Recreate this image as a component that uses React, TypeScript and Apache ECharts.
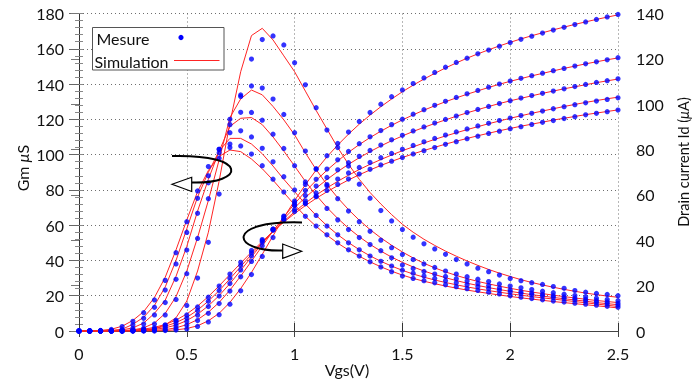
import React, { useEffect, useRef } from "react";
import * as echarts from "echarts";

// Gate voltage samples (V)
const VGS = [
  0, 0.05, 0.1, 0.15, 0.2, 0.25, 0.3, 0.35, 0.4, 0.45, 0.5, 0.55, 0.6, 0.65, 0.7, 0.75, 0.8, 0.85, 0.9, 0.95, 1.0,
  1.05, 1.1, 1.15, 1.2, 1.25, 1.3, 1.35, 1.4, 1.45, 1.5, 1.55, 1.6, 1.65, 1.7, 1.75, 1.8, 1.85, 1.9, 1.95, 2.0,
  2.05, 2.1, 2.15, 2.2, 2.25, 2.3, 2.35, 2.4, 2.45, 2.5,
];

// Measured transconductance Gm (µS), left axis
const gmMeasA = [0,0,0,0,0,0.1,0.3,0.9,3.4,6.1,14.5,30,50.3,77.6,104,133.8,154.2,165.2,167.3,162.2,152.1,139.6,126.6,113.9,104,93.5,83.2,75.3,68.3,62.4,57.5,53.2,49.4,46.5,43.5,40.5,38,35.6,33.6,31.7,29.8,28.5,27.4,26.4,25.2,24.2,22.9,22,21.3,20.7,20.0];
const gmMeasB = [0,0,0,0,0.2,0.5,1.5,4,9.1,17.9,32.5,52.5,75,98,120,133,138.9,137.7,131.5,122.8,112.4,102,92,83,75,68,62,56.5,51.5,47.2,43.4,40.5,38,36,34,32.3,30.8,29.4,28,26.7,25.5,24.5,23.5,22.6,21.7,20.9,20.1,19.3,18.6,17.9,17.2];
const gmMeasC = [0,0,0,0.2,0.5,1.5,4,9.1,16.1,29.3,45.9,66.7,84,101,117,124,123.9,119.5,111.6,103.5,93.7,84.5,76.5,69.5,63,57.5,53,49,45.5,41.5,37.4,35.5,33.8,32.3,30.9,29.6,28.3,27,25.8,24.4,23.2,22.3,21.5,20.8,20,19.3,18.6,17.9,17.2,16.5,15.7];
const gmMeasD = [0,0,0,0.3,0.9,3.5,7.2,13.4,23.2,38,55.9,75.2,88,103,112.4,113.5,110,103.6,95.9,87.5,80,72.5,65.5,59.5,54.5,50,46,42.5,39.5,36.8,34.5,32.8,31.2,29.8,28.5,27.3,26.2,25.1,24.1,23.1,22.1,21.3,20.5,19.8,19,18.3,17.6,16.9,16.2,15.4,14.6];
const gmMeasE = [0,0,0.3,0.9,2.5,5.5,10.4,17.6,28.7,44.4,62,79.4,93.2,103,106,104.9,100.3,93.7,86.1,78.8,71.5,65,59.5,54.5,50,46,42.5,39.2,36.3,33.6,31.2,29.8,28.5,27.3,26.2,25.1,24,23,22,21,20,19.2,18.4,17.7,17,16.4,15.8,15.2,14.6,14,13.4];

// Simulated transconductance Gm (µS), left axis
const gmSimA = [0,0,0,0,0,0.1,0.4,1.2,3.5,7.5,17,34,56,85,118,147,167.5,171.6,165,156,147,136,125,114.5,104,94.5,86,78.5,72,66,60.5,56,52,48.5,45.3,42.4,39.7,37.2,34.9,32.8,30.9,29.1,27.5,26.1,24.8,23.6,22.5,21.5,20.6,19.8,19.1];
const gmSimB = [0,0,0,0,0.2,0.6,1.8,4.5,10,19.5,34,53,74,97,121,131.6,136.6,133.9,127.3,119.7,111.2,101,91.5,83,75.5,68.8,62.8,57.5,52.8,48.6,44.8,41.4,38.4,35.8,33.5,31.5,29.7,28.1,26.7,25.4,24.2,23.1,22.1,21.2,20.3,19.5,18.7,18,17.3,16.7,16.1];
const gmSimC = [0,0,0,0.2,0.6,1.8,4.5,10,17.5,31,48,68,86,102,116,120.6,121,117,110,102,93.5,84.8,77,70,63.8,58.3,53.4,49.1,45.3,41.9,38.9,36.3,34,32,30.2,28.6,27.1,25.8,24.6,23.5,22.5,21.5,20.6,19.8,19,18.3,17.6,16.9,16.1,15.5,14.9];
const gmSimD = [0,0,0,0.3,1,3.8,7.8,14.5,25,40,58,76,90,102,109.2,109.2,106,100.5,93.5,86,79,72,65.5,59.7,54.6,50.1,46.1,42.6,39.5,36.8,34.4,32.3,30.5,28.9,27.5,26.2,25,23.9,22.9,22,21.1,20.3,19.5,18.8,18.1,17.4,16.7,16,15.3,14.6,13.9];
const gmSimE = [0,0,0.3,1,2.7,6,11,19,30.5,46,63,79,91,99,102.6,101.7,97.5,92,85.5,78.5,71.5,65,59.3,54.3,49.8,45.9,42.4,39.2,36.4,33.9,31.7,29.8,28.2,26.8,25.5,24.3,23.2,22.2,21.3,20.4,19.6,18.8,18.1,17.4,16.7,16.1,15.5,14.9,14.3,13.7,13.1];

// Measured drain current Id (µA), right axis
const idMeasA = [0,0,0,0,0,0,0,0,0.2,0.4,0.9,2,4,7.2,11.8,17.7,24.9,32.9,41.2,49.5,57.3,64.6,71.3,77.3,82.7,87.7,92.4,96.4,100,103.3,106.3,109.1,111.6,114,116.3,118.4,120.3,122.2,123.9,125.6,127.2,128.6,130,131.4,132.7,133.9,135.1,136.3,137.4,138.5,139.6];
const idMeasB = [0,0,0,0,0,0,0.1,0.2,0.5,1.2,2.5,4.6,7.8,12.1,17.6,23.9,30.7,37.6,44.4,50.7,56.6,62,66.9,71.4,75.5,79.2,82.6,85.6,88.4,91,93.4,95.6,97.6,99.5,101.3,103,104.6,106.1,107.5,108.9,110.2,111.4,112.6,113.7,114.8,115.8,116.8,117.8,118.7,119.6,120.5];
const idMeasC = [0,0,0,0,0,0.1,0.2,0.5,1.2,2.3,4.2,7,10.8,15.4,20.9,26.9,33.1,39.2,45,50.4,55.3,59.8,63.9,67.7,71.1,74.2,77,79.6,82,84.3,86.3,88.2,90,91.7,93.3,94.8,96.3,97.7,99,100.3,101.5,102.7,103.8,104.8,105.8,106.8,107.8,108.7,109.6,110.4,111.2];
const idMeasD = [0,0,0,0,0,0.2,0.4,0.9,1.9,3.4,5.7,9,13.1,17.9,23.3,28.9,34.5,39.8,44.8,49.4,53.6,57.4,60.9,64.1,67,69.7,72.1,74.3,76.4,78.3,80.1,81.8,83.4,84.9,86.4,87.8,89.1,90.4,91.6,92.8,93.9,95,96,97,98,98.9,99.8,100.6,101.4,102.1,102.8];
const idMeasE = [0,0,0,0,0.1,0.3,0.7,1.4,2.6,4.4,7.1,10.6,14.9,19.8,25.1,30.3,35.5,40.3,44.8,48.9,52.7,56.1,59.2,62,64.6,67,69.2,71.3,73.2,74.9,76.5,78.1,79.5,80.9,82.3,83.5,84.8,85.9,87.1,88.1,89.2,90.1,91.1,92,92.8,93.7,94.5,95.3,96,96.7,97.4];

// Simulated drain current Id (µA), right axis
const idSimA = [0,0,0,0,0,0,0,0,0.2,0.5,1.1,2.3,4.5,7.8,12.6,18.7,25.8,33.8,42,50,57.5,64.5,71,76.8,82,86.8,91.2,95.2,98.9,102.3,105.5,108.4,111.1,113.6,116,118.2,120.3,122.2,124,125.7,127.3,128.8,130.2,131.5,132.8,134,135.2,136.3,137.4,138.4,139.4];
const idSimB = [0,0,0,0,0,0,0.1,0.3,0.6,1.4,2.8,5,8.3,12.6,18,24.2,30.8,37.5,44.1,50.3,56.1,61.5,66.4,70.9,75,78.8,82.2,85.3,88.1,90.7,93.1,95.3,97.4,99.3,101.1,102.8,104.4,105.9,107.4,108.8,110.1,111.3,112.5,113.6,114.7,115.8,116.8,117.8,118.7,119.6,120.4];
const idSimC = [0,0,0,0,0,0.1,0.3,0.7,1.4,2.6,4.6,7.4,11.1,15.6,20.9,26.7,32.7,38.6,44.2,49.5,54.4,58.9,63,66.8,70.3,73.5,76.4,79.1,81.6,83.9,86,88,89.8,91.5,93.1,94.7,96.2,97.6,99,100.3,101.5,102.6,103.7,104.8,105.8,106.8,107.7,108.6,109.5,110.3,111.1];
const idSimD = [0,0,0,0,0.1,0.2,0.5,1.1,2.1,3.7,6,9.2,13.2,17.8,23,28.4,33.8,39,43.9,48.4,52.6,56.4,59.9,63.1,66,68.7,71.2,73.5,75.6,77.6,79.5,81.2,82.9,84.5,86,87.4,88.8,90.1,91.4,92.6,93.8,94.9,96,97,98,99,99.9,100.8,101.6,102.4,103.1];
const idSimE = [0,0,0,0,0.1,0.4,0.8,1.6,2.9,4.8,7.5,11,15.2,19.9,24.9,29.9,34.8,39.5,43.9,48,51.8,55.3,58.5,61.4,64.1,66.6,68.9,71,73,74.8,76.5,78.1,79.6,81,82.4,83.7,84.9,86.1,87.2,88.3,89.3,90.3,91.2,92.1,93,93.8,94.6,95.4,96.1,96.8,97.5];

const GM_MEAS = [gmMeasA, gmMeasB, gmMeasC, gmMeasD, gmMeasE];
const GM_SIM = [gmSimA, gmSimB, gmSimC, gmSimD, gmSimE];
const ID_MEAS = [idMeasA, idMeasB, idMeasC, idMeasD, idMeasE];
const ID_SIM = [idSimA, idSimB, idSimC, idSimD, idSimE];

const LEGEND_MEAS = "Mesure";
const LEGEND_SIM = "Simulation";
const X_NAME = "Vgs(V)";
const Y_LEFT_NAME = "Gm {i|μ}S";
const Y_RIGHT_NAME = "Drain current Id ({i|μ}A)";

const FONT = "Lato";
const RED = "#ff2424";
const BLUE = "#0000ff";

export default function App() {
  const ref = useRef<HTMLDivElement>(null);

  useEffect(() => {
    if (!ref.current) return;
    const chart = echarts.init(ref.current, null, { renderer: "svg" });
    const pair = (ys: number[]) => VGS.map((x, i) => [x, ys[i]]);

    const series: any[] = [];
    GM_SIM.forEach((ys) =>
      series.push({
        name: LEGEND_SIM, type: "line", yAxisIndex: 0, data: pair(ys), showSymbol: false,
        lineStyle: { color: RED, width: 1 }, itemStyle: { color: RED }, z: 2, silent: true,
      })
    );
    ID_SIM.forEach((ys) =>
      series.push({
        name: LEGEND_SIM, type: "line", yAxisIndex: 1, data: pair(ys), showSymbol: false,
        lineStyle: { color: RED, width: 1 }, itemStyle: { color: RED }, z: 2, silent: true,
      })
    );
    GM_MEAS.forEach((ys) =>
      series.push({
        name: LEGEND_MEAS, type: "scatter", yAxisIndex: 0, data: pair(ys), symbolSize: 5.2,
        itemStyle: { color: BLUE }, z: 3, silent: true,
      })
    );
    ID_MEAS.forEach((ys) =>
      series.push({
        name: LEGEND_MEAS, type: "scatter", yAxisIndex: 1, data: pair(ys), symbolSize: 5.2,
        itemStyle: { color: BLUE }, z: 3, silent: true,
      })
    );

    const splitLine = { show: true, lineStyle: { color: "#6e6e6e", type: [1, 3], width: 1 } };
    const labelStyle = { color: "#111", fontSize: 16, fontFamily: FONT };

    chart.setOption({
      animation: false,
      textStyle: { fontFamily: FONT },
      grid: { left: 79, right: 75, top: 13.5, bottom: 55, containLabel: false },
      xAxis: [
        {
          type: "value", min: 0, max: 2.5, interval: 0.5, position: "bottom",
          axisLine: { show: true, lineStyle: { color: "#333", width: 1 } },
          axisTick: { show: true, inside: true, length: 8, lineStyle: { color: "#333" } },
          axisLabel: { ...labelStyle, margin: 14 },
          splitLine,
        },
        {
          type: "value", min: 0, max: 2.5, interval: 0.5, position: "top",
          axisLine: { show: true, lineStyle: { color: "#444", width: 1 } },
          axisTick: { show: true, inside: true, length: 6, lineStyle: { color: "#444" } },
          axisLabel: { show: false },
          splitLine: { show: false },
        },
      ],
      yAxis: [
        {
          type: "value", min: 0, max: 180, interval: 20, position: "left",
          axisLine: { show: true, lineStyle: { color: "#888", width: 1 } },
          axisTick: { show: true, inside: false, length: 10, lineStyle: { color: "#666" } },
          minorTick: { show: true, splitNumber: 5, length: 4, lineStyle: { color: "#888" } },
          axisLabel: { ...labelStyle, margin: 15 },
          splitLine,
        },
        {
          type: "value", min: 0, max: 140, interval: 20, position: "right",
          axisLine: { show: true, lineStyle: { color: "#333", width: 1 } },
          axisTick: { show: true, inside: true, length: 8, lineStyle: { color: "#777" } },
          axisLabel: { ...labelStyle, margin: 18 },
          splitLine: { show: false },
        },
        {
          type: "value", min: 0, max: 180, interval: 20, position: "left",
          axisLine: { show: false },
          axisTick: { show: true, inside: true, length: 4, lineStyle: { color: "#888" } },
          minorTick: { show: true, splitNumber: 5, length: 4, lineStyle: { color: "#888" } },
          axisLabel: { show: false },
          splitLine: { show: false },
        },
      ],
      series,
      graphic: [
        // legend box
        { type: "rect", z: 100, shape: { x: 92.5, y: 27.5, width: 131.5, height: 42.5 },
          style: { fill: "#fff", stroke: "#555", lineWidth: 1 } },
        { type: "text", z: 101, x: 96.5, y: 38, style: { text: LEGEND_MEAS, fontSize: 16, fontFamily: FONT, fill: "#111", align: "left", verticalAlign: "middle" } },
        { type: "circle", z: 101, shape: { cx: 181, cy: 37.5, r: 2.6 }, style: { fill: BLUE } },
        { type: "text", z: 101, x: 94.5, y: 61, style: { text: LEGEND_SIM, fontSize: 16, fontFamily: FONT, fill: "#111", align: "left", verticalAlign: "middle" } },
        { type: "line", z: 101, shape: { x1: 174, y1: 60.5, x2: 219.5, y2: 60.5 }, style: { stroke: RED, lineWidth: 1 } },
        // axis names
        { type: "text", z: 50, x: 22, y: 168, rotation: Math.PI / 2,
          style: { text: Y_LEFT_NAME, fontSize: 16, fontFamily: FONT, fill: "#111", align: "center", verticalAlign: "middle",
            rich: { i: { fontStyle: "italic", fontSize: 16, fontFamily: FONT, fill: "#111" } } } },
        { type: "text", z: 50, x: 683.5, y: 162, rotation: Math.PI / 2,
          style: { text: Y_RIGHT_NAME, fontSize: 14.5, fontFamily: FONT, fill: "#111", align: "center", verticalAlign: "middle",
            rich: { i: { fontStyle: "italic", fontSize: 14.5, fontFamily: FONT, fill: "#111" } } } },
        { type: "text", z: 50, x: 347, y: 369, style: { text: X_NAME, fontSize: 16, fontFamily: FONT, fill: "#111", align: "center", verticalAlign: "middle" } },
        // upper arrow (towards left axis)
        { type: "bezierCurve", z: 90, shape: { x1: 172, y1: 156, cpx1: 250, cpy1: 154, cpx2: 245, cpy2: 184, x2: 192, y2: 182.5 },
          style: { stroke: "#000", lineWidth: 2, fill: "none" } },
        { type: "polygon", z: 91, shape: { points: [[172, 184.3], [191.7, 177.3], [191.7, 191.5]] },
          style: { fill: "#fff", stroke: "#000", lineWidth: 1.2 } },
        // lower arrow (towards right axis)
        { type: "bezierCurve", z: 90, shape: { x1: 302, y1: 222.5, cpx1: 225, cpy1: 220, cpx2: 230, cpy2: 252, x2: 283, y2: 250.5 },
          style: { stroke: "#000", lineWidth: 2, fill: "none" } },
        { type: "polygon", z: 91, shape: { points: [[301.7, 251.3], [282.7, 244], [282.7, 258.3]] },
          style: { fill: "#fff", stroke: "#000", lineWidth: 1.2 } },
      ],
    });

    return () => chart.dispose();
  }, []);

  return <div ref={ref} style={{ position: "fixed", left: 0, top: 0, width: 693, height: 386 }} />;
}
